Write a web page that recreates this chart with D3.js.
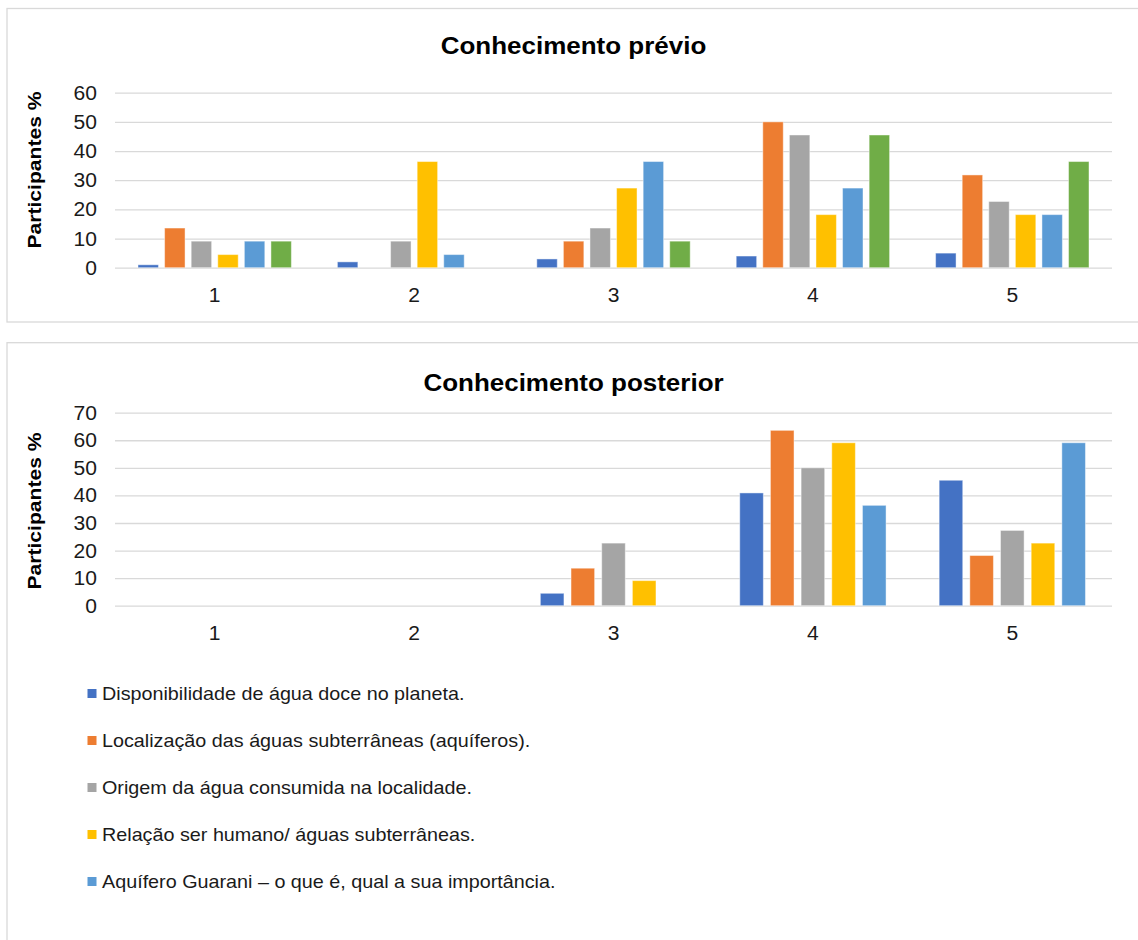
<!DOCTYPE html>
<html>
<head>
<meta charset="utf-8">
<script src="https://cdn.jsdelivr.net/npm/d3@7/dist/d3.min.js"></script>
<style>
  html, body { margin: 0; padding: 0; background: #fff; }
  svg { display: block; font-family: "Liberation Sans", Arial, sans-serif; }
</style>
</head>
<body>
<svg id="chart" width="1138" height="940"></svg>
<script>
// ---------- DATA ----------
const categories = ["1", "2", "3", "4", "5"];

const seriesNames = [
  "Disponibilidade de água doce no planeta.",
  "Localização das águas subterrâneas (aquíferos).",
  "Origem da água consumida na localidade.",
  "Relação ser humano/ águas subterrâneas.",
  "Aquífero Guarani – o que é, qual a sua importância."
];

const seriesColors = ["#4472C4", "#ED7D31", "#A5A5A5", "#FFC000", "#5B9BD5", "#70AD47"];

// Conhecimento prévio (6 series drawn)
const prevDisponibilidade = [1, 2, 3, 4, 5];
const prevLocalizacao     = [13.6, 0, 9.1, 50, 31.8];
const prevOrigem          = [9.1, 9.1, 13.6, 45.5, 22.7];
const prevRelacao         = [4.5, 36.4, 27.3, 18.2, 18.2];
const prevAquifero        = [9.1, 4.5, 36.4, 27.3, 18.2];
const prevSexta           = [9.1, 0, 9.1, 45.5, 36.4];

// Conhecimento posterior (5 series)
const postDisponibilidade = [0, 0, 4.5, 40.9, 45.5];
const postLocalizacao     = [0, 0, 13.6, 63.6, 18.2];
const postOrigem          = [0, 0, 22.7, 50, 27.3];
const postRelacao         = [0, 0, 9.1, 59.1, 22.7];
const postAquifero        = [0, 0, 0, 36.4, 59.1];

const prevTicks = [0, 10, 20, 30, 40, 50, 60];
const postTicks = [0, 10, 20, 30, 40, 50, 60, 70];

const titlePrev = "Conhecimento prévio";
const titlePost = "Conhecimento posterior";
const yAxisTitle = "Participantes %";

// ---------- DRAWING ----------
const svg = d3.select("#chart");
const gridColor = "#D9D9D9";
const textColor = "#1a1a1a";

function stretchedText(parent, x, y, str, opts) {
  const g = parent.append("g")
    .attr("transform", `translate(${x},${y})` + (opts.rotate ? ` rotate(${opts.rotate})` : "") + ` scale(${opts.stretch || 1},1)`);
  g.append("text")
    .attr("x", 0).attr("y", 0)
    .attr("text-anchor", opts.anchor || "start")
    .attr("font-size", opts.size)
    .attr("font-weight", opts.weight || "normal")
    .attr("fill", opts.color || textColor)
    .text(str);
  return g;
}

function drawChart(cfg) {
  const g = svg.append("g");
  // frame
  g.append("rect")
    .attr("x", cfg.frame[0]).attr("y", cfg.frame[1])
    .attr("width", cfg.frame[2]).attr("height", cfg.frame[3])
    .attr("fill", "#fff").attr("stroke", gridColor).attr("stroke-width", 1.3);

  const x0 = d3.scaleBand().domain(categories).range([cfg.left, cfg.right]).padding(0);
  const y = d3.scaleLinear().domain([0, d3.max(cfg.ticks)]).range([cfg.bottom, cfg.top]);

  // gridlines via axis
  const axis = d3.axisLeft(y).tickValues(cfg.ticks).tickSize(-(cfg.right - cfg.left)).tickFormat("");
  const ax = g.append("g").attr("transform", `translate(${cfg.left},0)`).call(axis);
  ax.select(".domain").remove();
  ax.selectAll(".tick line").attr("stroke", gridColor).attr("stroke-width", 1.3);

  // tick labels
  cfg.ticks.forEach(t => {
    stretchedText(g, 97, y(t) + 7, String(t), { size: 19.5, anchor: "end", stretch: 1.08 });
  });

  // bars
  const n = cfg.series.length;
  const bw = x0.bandwidth();
  const unitW = bw / (n + (n - 1) * 0.3 + 2.25);
  const groupW = unitW * (n + (n - 1) * 0.3);
  const x1 = d3.scaleBand().domain(d3.range(n)).range([0, groupW]).paddingInner(0.3 / 1.3).paddingOuter(0);

  cfg.series.forEach((vals, si) => {
    g.append("g").selectAll("rect")
      .data(vals.map((v, ci) => ({ v, c: categories[ci] })).filter(d => d.v > 0))
      .join("rect")
      .attr("x", d => x0(d.c) + (bw - groupW) / 2 + x1(si))
      .attr("y", d => y(d.v))
      .attr("width", x1.bandwidth())
      .attr("height", d => y(0) - y(d.v))
      .attr("fill", seriesColors[si])
      .attr("stroke", "#fff").attr("stroke-opacity", 0.45).attr("stroke-width", 1);
  });

  // category labels
  categories.forEach(c => {
    stretchedText(g, x0(c) + bw / 2, cfg.bottom + 34.5, c, { size: 19.5, anchor: "middle", stretch: 1.08 });
  });

  // title
  stretchedText(g, 573.5, cfg.titleY, cfg.title, { size: 23, anchor: "middle", weight: "bold", stretch: 1.13, color: "#000" });

  // y axis title
  stretchedText(g, 40.5, cfg.yTitleC, yAxisTitle, { size: 19, anchor: "middle", weight: "bold", rotate: -90, stretch: 1.11, color: "#000" });
}

drawChart({
  frame: [7, 8.5, 1145, 313.5],
  left: 115, right: 1112, top: 92.7, bottom: 267.7,
  ticks: prevTicks,
  series: [prevDisponibilidade, prevLocalizacao, prevOrigem, prevRelacao, prevAquifero, prevSexta],
  title: titlePrev, titleY: 53.5, yTitleC: 170
});

drawChart({
  frame: [7, 342.7, 1145, 620],
  left: 115, right: 1112, top: 412.7, bottom: 605.7,
  ticks: postTicks,
  series: [postDisponibilidade, postLocalizacao, postOrigem, postRelacao, postAquifero],
  title: titlePost, titleY: 390.5, yTitleC: 511
});

// legend
const legend = svg.append("g");
seriesNames.forEach((name, i) => {
  const cy = 693.5 + i * 47;
  legend.append("rect")
    .attr("x", 87.5).attr("y", cy - 4.5)
    .attr("width", 9).attr("height", 9)
    .attr("fill", seriesColors[i]);
  stretchedText(legend, 102, cy + 6.5, name, { size: 19, anchor: "start", stretch: 1.04 });
});
</script>
</body>
</html>
